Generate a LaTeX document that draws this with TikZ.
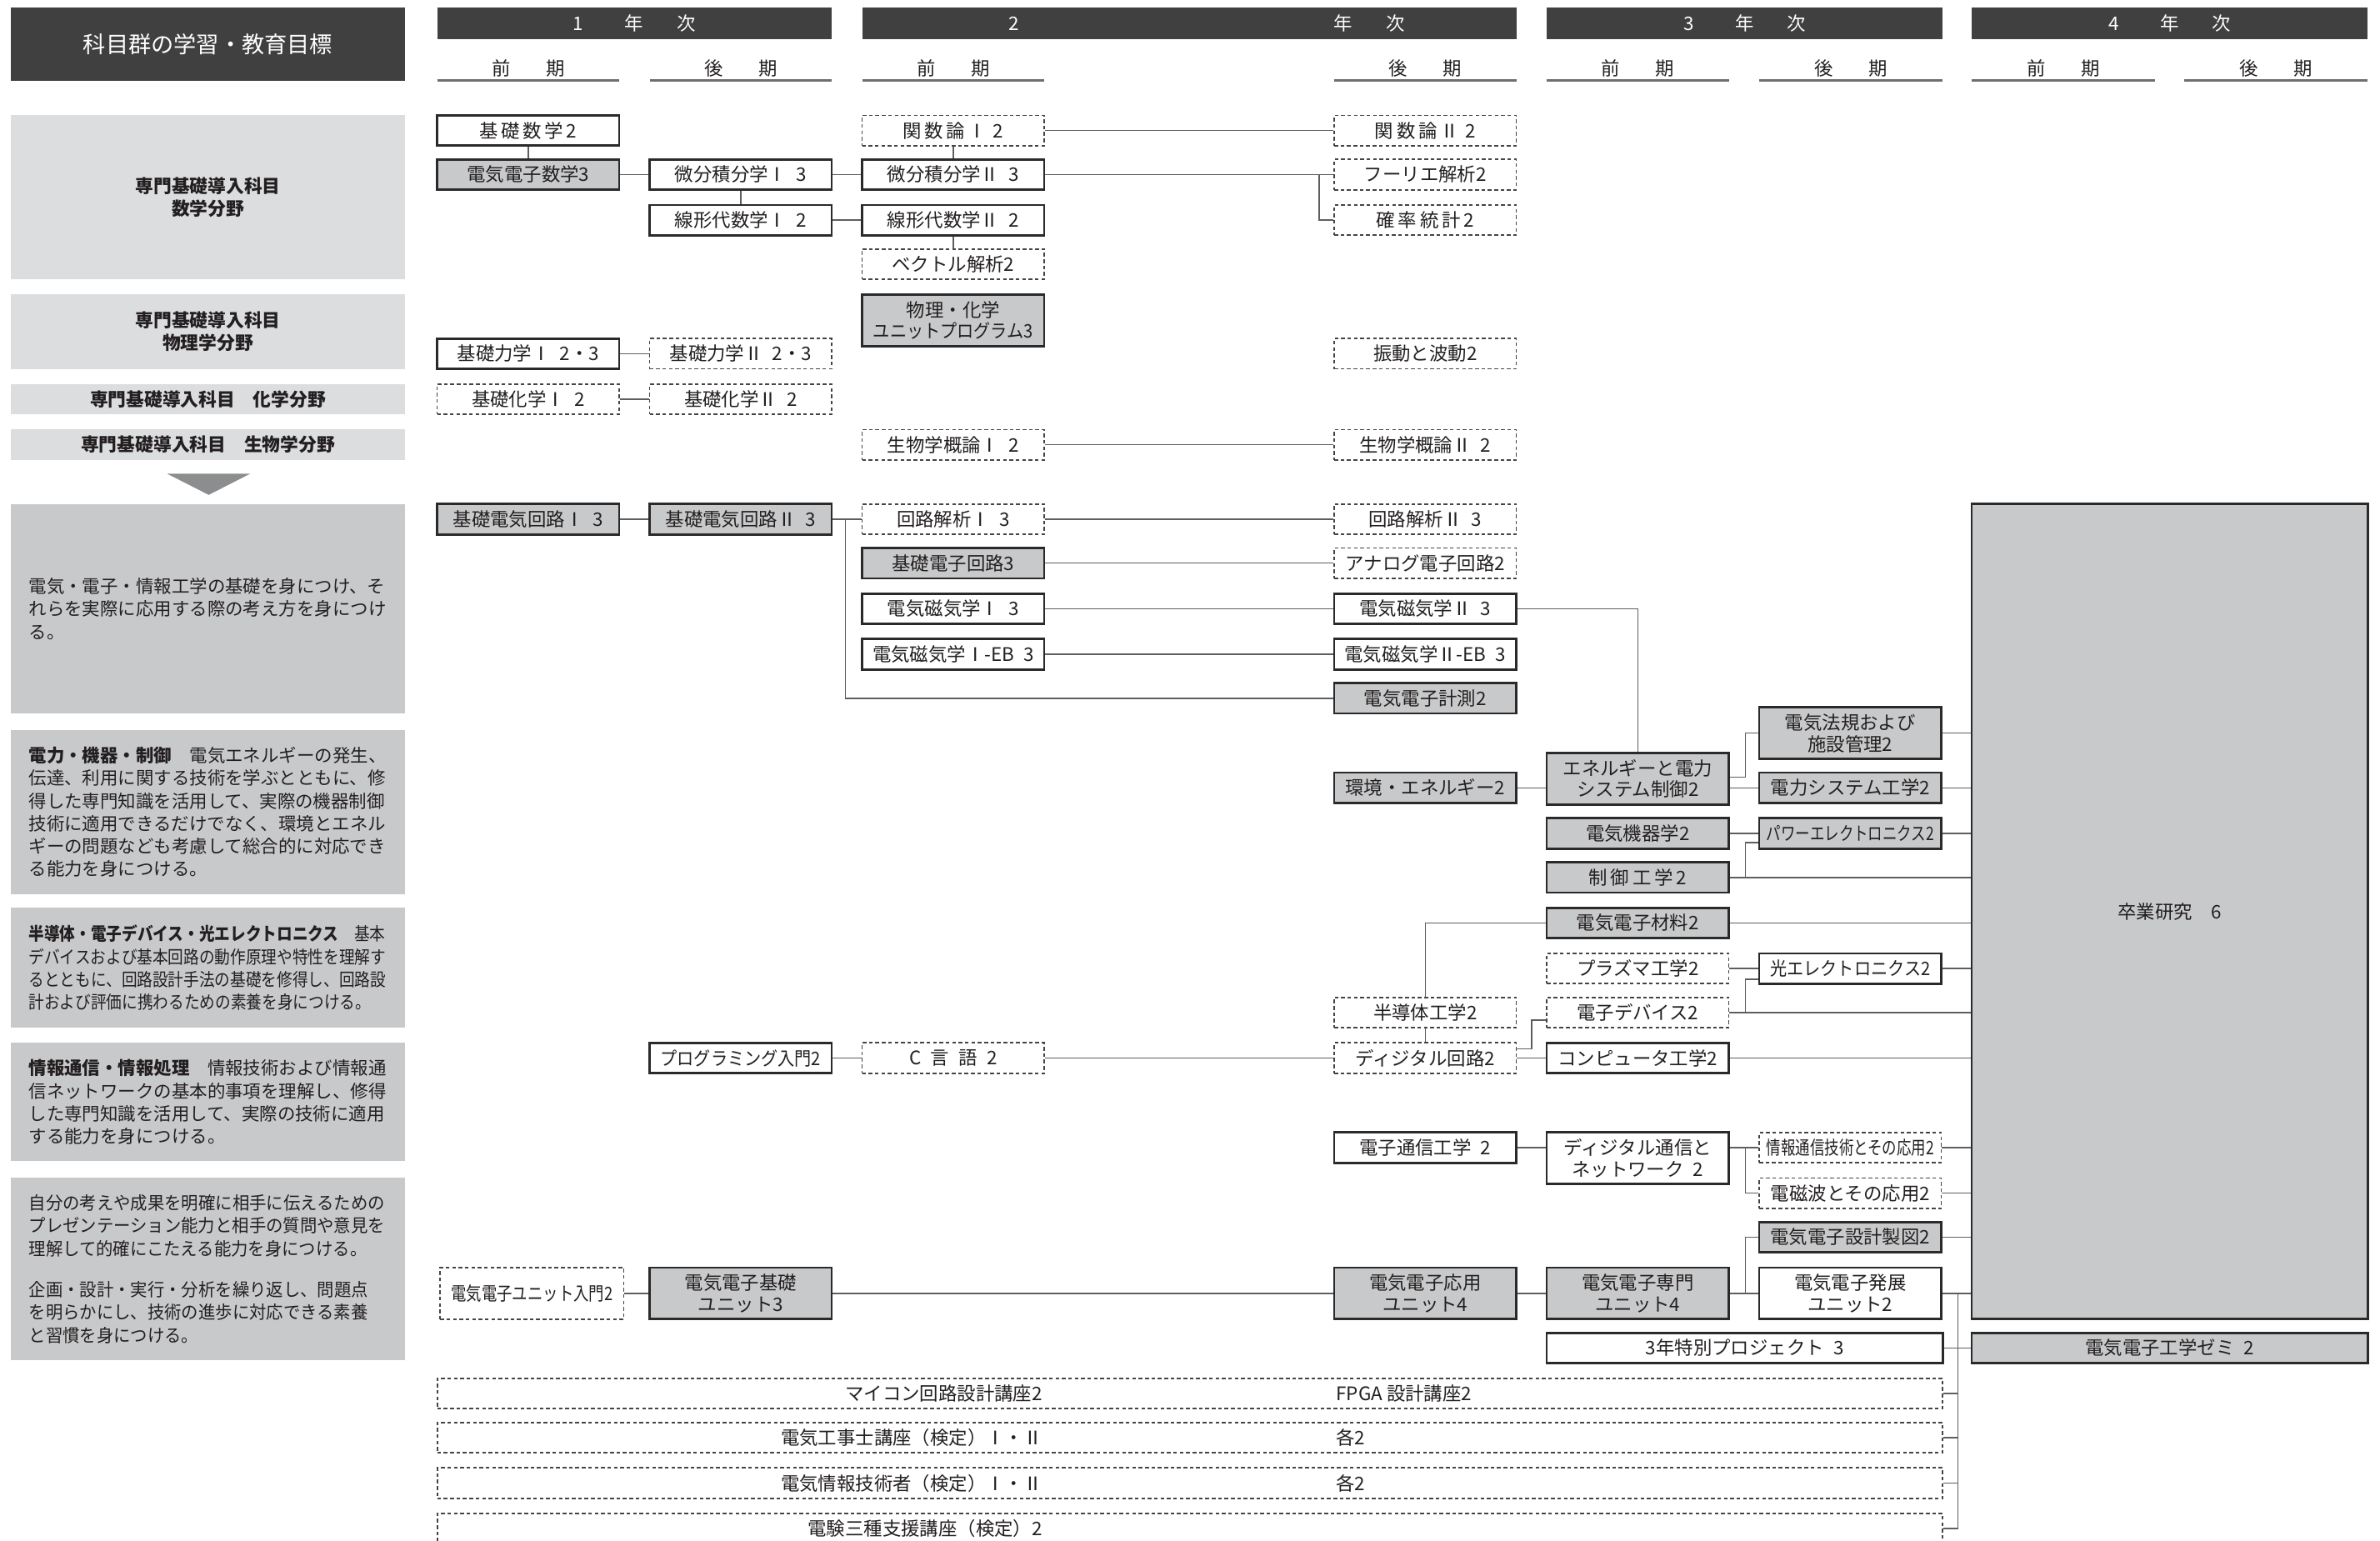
\documentclass[tikz,border=0pt]{standalone}
\usepackage{fontspec}
\usepackage{xcolor}
\usepackage{graphicx}
\usepackage{tikz}
\newfontfamily\jp{Noto Sans CJK JP}
\newfontfamily\jpc{Noto Sans CJK JP}[FakeStretch=0.87]
\newfontfamily\jpm{Noto Sans CJK JP}[FakeStretch=0.95]
\definecolor{barDark}{HTML}{404041}
\definecolor{panelLight}{HTML}{DCDDDF}
\definecolor{panelGray}{HTML}{C8C9CB}
\definecolor{boxGray}{HTML}{C8C9CA}
\definecolor{boxLine}{HTML}{2A2A2A}
\definecolor{optLine}{HTML}{444444}
\definecolor{lineGray}{HTML}{5E5E5E}
\definecolor{ruleGray}{HTML}{6E6E70}
\definecolor{triGray}{HTML}{8C8D8F}
\definecolor{textDark}{HTML}{231F20}
\newcommand{\hsq}[2]{\scalebox{#1}[1]{#2}}

\begin{document}
\begin{tikzpicture}[x=0.02cm, y=-0.02cm,
    font=\jp\fontsize{7}{8}\selectfont,
    course/.style={draw=boxLine, line width=0.85pt, fill=white, text=textDark,
      minimum width=2.4cm, minimum height=0.4cm, inner sep=0pt, align=center},
    gcourse/.style={course, fill=boxGray},
    opt/.style={course, draw=optLine, line width=0.55pt, dash pattern=on 1.4pt off 1pt},
    tall/.style={minimum height=0.68cm},
    link/.style={lineGray, line width=0.45pt},
    yearbar/.style={fill=barDark, text=white, minimum height=0.42cm, inner sep=0pt},
    term/.style={text=textDark, inner sep=0pt},
    panel/.style={fill=panelLight, text=textDark, minimum width=5.2cm, inner sep=0pt,
      align=center, font=\jp\bfseries\fontsize{6.8}{8.5}\selectfont},
    goal/.style={fill=panelGray, text=textDark, minimum width=5.2cm, text width=4.72cm,
      inner sep=0pt, align=left, font=\jp\fontsize{6.7}{8.5}\selectfont}]
    \clip (0,0) rectangle (1568,1014.6);
    % --- columns (semester centres) ---
    \def\ca{348} \def\cb{488} \def\cc{628} \def\cd{939} \def\ce{1079} \def\cf{1219}
    % --- left: goals of the course groups ---
    \node[fill=barDark, text=white, minimum width=5.2cm, minimum height=0.96cm, inner sep=0pt,
      font=\jp\fontsize{8.5}{10}\selectfont] (title) at (137,29) {科目群の学習・教育目標};
    \node[panel, minimum height=2.16cm] (pmath) at (137,130) {専門基礎導入科目\\数学分野};
    \node[panel, minimum height=0.98cm] (pphys) at (137,218.5) {専門基礎導入科目\\物理学分野};
    \node[panel, minimum height=0.4cm] (pchem) at (137,263) {専門基礎導入科目　化学分野};
    \node[panel, minimum height=0.4cm] (pbio) at (137,293) {専門基礎導入科目　生物学分野};
    \fill[triGray] (110,312) -- (165,312) -- (137.5,326) -- cycle;
    \node[goal, minimum height=2.76cm] (gbase) at (137,401)
      {電気・電子・情報工学の基礎を身につけ、そ\\れらを実際に応用する際の考え方を身につけ\\る。};
    \node[goal, minimum height=2.16cm] (gpow) at (137,535)
      {\textbf{電力・機器・制御}　電気エネルギーの発生、\\伝達、利用に関する技術を学ぶとともに、修\\得した専門知識を活用して、実際の機器制御\\技術に適用できるだけでなく、環境とエネル\\ギーの問題なども考慮して総合的に対応でき\\る能力を身につける。};
    \node[goal, minimum height=1.58cm, font=\jpc\fontsize{6.7}{8.5}\selectfont] (gsemi) at (137,637.5)
      {\textbf{半導体・電子デバイス・光エレクトロニクス}　基本\\デバイスおよび基本回路の動作原理や特性を理解す\\るとともに、回路設計手法の基礎を修得し、回路設\\計および評価に携わるための素養を身につける。};
    \node[goal, minimum height=1.56cm] (ginfo) at (137,726)
      {\textbf{情報通信・情報処理}　情報技術および情報通\\信ネットワークの基本的事項を理解し、修得\\した専門知識を活用して、実際の技術に適用\\する能力を身につける。};
    \node[goal, minimum height=2.4cm, font=\jpm\fontsize{6.7}{8.5}\selectfont] (gpres) at (137,836)
      {自分の考えや成果を明確に相手に伝えるための\\プレゼンテーション能力と相手の質問や意見を\\理解して的確にこたえる能力を身につける。\\[7pt]企画・設計・実行・分析を繰り返し、問題点\\を明らかにし、技術の進歩に対応できる素養\\と習慣を身につける。};
    % --- year bars and terms ---
    \node[yearbar, minimum width=5.2cm] (y1) at (418,15.5) {1\hspace{2.2em}年\hspace{1.8em}次};
    \node[yearbar, minimum width=8.62cm] (y2) at (783.5,15.5) {};
    \node[text=white, inner sep=0pt] (y2n) at (668,15.5) {2};
    \node[text=white, inner sep=0pt] (y2t) at (902,15.5) {年\hspace{1.8em}次};
    \node[yearbar, minimum width=5.22cm] (y3) at (1149.5,15.5) {3\hspace{2.2em}年\hspace{1.8em}次};
    \node[yearbar, minimum width=5.22cm] (y4) at (1429.5,15.5) {4\hspace{2.2em}年\hspace{1.8em}次};
    \foreach \xa/\xb/\lbl [count=\i] in {288/408/前, 428/548/後, 568/688/前, 879/999/後,
        1019/1139/前, 1159/1280/後, 1299/1420/前, 1439/1560/後} {
      \draw[ruleGray, line width=1.1pt] (\xa,53) -- (\xb,53);
      \node[term] (t\i) at ({(\xa+\xb)/2},45) {\lbl\hspace{1.9em}期};
    }
    % --- mathematics ---
    \node[course] (bmath) at (\ca,86) {基\,礎\,数\,学\,2};
    \node[opt] (func1) at (\cc,86) {関\,数\,論\,Ⅰ\,\,2};
    \node[opt] (func2) at (\cd,86) {関\,数\,論\,Ⅱ\,\,2};
    \node[gcourse] (eemath) at (\ca,115) {電気電子数学3};
    \node[course] (calc1) at (\cb,115) {微分積分学Ⅰ\enspace 3};
    \node[course] (calc2) at (\cc,115) {微分積分学Ⅱ\enspace 3};
    \node[opt] (fourier) at (\cd,115) {フーリエ解析2};
    \node[course] (lin1) at (\cb,145) {線形代数学Ⅰ\enspace 2};
    \node[course] (lin2) at (\cc,145) {線形代数学Ⅱ\enspace 2};
    \node[opt] (prob) at (\cd,145) {確\,率\,統\,計\,2};
    \node[opt] (vec) at (\cc,174) {ベクトル解析2};
    % --- physics, chemistry, biology ---
    \node[gcourse, tall] (phys) at (\cc,211) {物理・化学\\\hsq{0.9}{ユニットプログラム3}};
    \node[course] (mech1) at (\ca,233) {基礎力学Ⅰ\enspace 2・3};
    \node[opt] (mech2) at (\cb,233) {基礎力学Ⅱ\enspace 2・3};
    \node[opt] (wave) at (\cd,233) {振動と波動2};
    \node[opt] (chem1) at (\ca,263) {基礎化学Ⅰ\enspace 2};
    \node[opt] (chem2) at (\cb,263) {基礎化学Ⅱ\enspace 2};
    \node[opt] (bio1) at (\cc,293) {生物学概論Ⅰ\enspace 2};
    \node[opt] (bio2) at (\cd,293) {生物学概論Ⅱ\enspace 2};
    % --- circuits and electromagnetism ---
    \node[gcourse] (circ1) at (\ca,342) {基礎電気回路Ⅰ\enspace 3};
    \node[gcourse] (circ2) at (\cb,342) {基礎電気回路Ⅱ\enspace 3};
    \node[opt] (ana1) at (\cc,342) {回路解析Ⅰ\enspace 3};
    \node[opt] (ana2) at (\cd,342) {回路解析Ⅱ\enspace 3};
    \node[gcourse] (elec) at (\cc,371) {基礎電子回路3};
    \node[opt] (analog) at (\cd,371) {アナログ電子回路2};
    \node[course] (em1) at (\cc,401) {電気磁気学Ⅰ\enspace 3};
    \node[course] (em2) at (\cd,401) {電気磁気学Ⅱ\enspace 3};
    \node[course] (emeb1) at (\cc,431) {電気磁気学Ⅰ-EB\enspace 3};
    \node[course] (emeb2) at (\cd,431) {電気磁気学Ⅱ-EB\enspace 3};
    \node[gcourse] (meas) at (\cd,460) {電気電子計測2};
    % --- power, machines, control ---
    \node[gcourse, tall] (law) at (\cf,483) {電気法規および\\施設管理2};
    \node[gcourse, tall] (esys) at (\ce,513) {エネルギーと電力\\システム制御2};
    \node[gcourse] (env) at (\cd,519) {環境・エネルギー2};
    \node[gcourse] (psys) at (\cf,519) {電力システム工学2};
    \node[gcourse] (mach) at (\ce,549) {電気機器学2};
    \node[gcourse] (pe) at (\cf,549) {\hsq{0.78}{パワーエレクトロニクス2}};
    \node[gcourse] (ctrl) at (\ce,578) {制\,御\,工\,学\,2};
    % --- devices ---
    \node[gcourse] (mat) at (\ce,608) {電気電子材料2};
    \node[opt] (plasma) at (\ce,638) {プラズマ工学2};
    \node[course] (opto) at (\cf,638) {\hsq{0.9}{光エレクトロニクス2}};
    \node[opt] (semi) at (\cd,667) {半導体工学2};
    \node[opt] (dev) at (\ce,667) {電子デバイス2};
    % --- information ---
    \node[course] (prog) at (\cb,697) {\hsq{0.9}{プログラミング入門2}};
    \node[opt] (clang) at (\cc,697) {C\enspace 言\enspace 語\enspace 2};
    \node[opt] (digi) at (\cd,697) {ディジタル回路2};
    \node[course] (comp) at (\ce,697) {コンピュータ工学2};
    \node[course] (ecom) at (\cd,756) {電子通信工学\enspace 2};
    \node[course, tall] (dcom) at (\ce,763) {ディジタル通信と\\ネットワーク\enspace 2};
    \node[opt] (ict) at (\cf,756) {\hsq{0.78}{情報通信技術とその応用2}};
    \node[opt] (emw) at (\cf,786) {電磁波とその応用2};
    \node[gcourse] (cad) at (\cf,815) {電気電子設計製図2};
    % --- units, project, seminar ---
    \node[opt, tall, minimum width=2.42cm] (uintro) at (350.5,852) {\hsq{0.82}{電気電子ユニット入門2}};
    \node[gcourse, tall] (ubase) at (\cb,852) {電気電子基礎\\ユニット3};
    \node[gcourse, tall] (uapp) at (\cd,852) {電気電子応用\\ユニット4};
    \node[gcourse, tall] (uspec) at (\ce,852) {電気電子専門\\ユニット4};
    \node[course, tall] (uadv) at (\cf,852) {電気電子発展\\ユニット2};
    \node[course, minimum width=5.22cm] (proj) at (1149.5,888) {3年特別プロジェクト\enspace 3};
    \node[gcourse, minimum width=5.22cm] (zemi) at (1429.5,888) {電気電子工学ゼミ\enspace 2};
    \node[gcourse, minimum width=5.22cm, minimum height=10.74cm] (grad) at (1429.5,600.5) {卒業研究\quad 6};
    % --- extra courses ---
    \node[opt, minimum width=19.84cm] (k1) at (784,918) {};
    \node[opt, minimum width=19.84cm] (k2) at (784,947) {};
    \node[opt, minimum width=19.84cm] (k3) at (784,977) {};
    \node[opt, minimum width=19.84cm] (k4) at (784,1007) {};
    \node[term, anchor=east] (k1a) at (687,918) {マイコン回路設計講座2};
    \node[term, anchor=west] (k1b) at (880,918) {FPGA 設計講座2};
    \node[term, anchor=east] (k2a) at (687,947) {電気工事士講座（検定）Ⅰ・Ⅱ};
    \node[term, anchor=west] (k2b) at (880,947) {各2};
    \node[term, anchor=east] (k3a) at (687,977) {電気情報技術者（検定）Ⅰ・Ⅱ};
    \node[term, anchor=west] (k3b) at (880,977) {各2};
    \node[term, anchor=east] (k4a) at (687,1007) {電験三種支援講座（検定）2};
    % --- connectors ---
    \coordinate (jf) at (869,115);
    \coordinate (jc) at (557,342);
    \coordinate (je) at (1150,512);
    \coordinate (jk) at (1150,555);
    \coordinate (jd) at (1150,645);
    \coordinate (jg) at (1009,691);
    \coordinate (jg2) at (1009,672);
    \coordinate (jn) at (1150,756);
    \coordinate (ju) at (1150,852);
    \coordinate (jx) at (1290,852);
    \draw[link] (bmath) -- (eemath);
    \draw[link] (eemath) -- (calc1);
    \draw[link] (calc1) -- (lin1);
    \draw[link] (calc1) -- (calc2);
    \draw[link] (lin1) -- (lin2);
    \draw[link] (func1) -- (calc2);
    \draw[link] (func1) -- (func2);
    \draw[link] (calc2) -- (fourier);
    \draw[link] (jf) |- (prob);
    \draw[link] (lin2) -- (vec);
    \draw[link] (mech1) -- (mech2);
    \draw[link] (chem1) -- (chem2);
    \draw[link] (bio1) -- (bio2);
    \draw[link] (circ1) -- (circ2);
    \draw[link] (circ2) -- (ana1);
    \draw[link] (jc) |- (meas);
    \draw[link] (ana1) -- (ana2);
    \draw[link] (elec) -- (analog);
    \draw[link] (em1) -- (em2);
    \draw[link] (emeb1) -- (emeb2);
    \draw[link] (em2) -| (esys);
    \draw[link] (env) -- (env -| esys.west);
    \draw[link] (psys) -- (psys -| esys.east);
    \draw[link] (esys.east |- je) -- (je) |- (law);
    \draw[link] (law) -- (law -| grad.west);
    \draw[link] (psys) -- (psys -| grad.west);
    \draw[link] (mach) -- (pe);
    \draw[link] (pe) -- (pe -| grad.west);
    \draw[link] (ctrl) -- (ctrl -| grad.west);
    \draw[link] (ctrl -| jk) -- (jk) -- (jk -| pe.west);
    \draw[link] (mat) -- (mat -| grad.west);
    \draw[link] (semi) |- (mat);
    \draw[link] (semi) -- (digi);
    \draw[link] (plasma) -- (opto);
    \draw[link] (opto) -- (opto -| grad.west);
    \draw[link] (dev) -- (dev -| grad.west);
    \draw[link] (dev -| jd) -- (jd) -- (jd -| opto.west);
    \draw[link] (digi.east |- jg) -- (jg) -- (jg2) -- (jg2 -| dev.west);
    \draw[link] (prog) -- (clang);
    \draw[link] (clang) -- (digi);
    \draw[link] (digi) -- (comp);
    \draw[link] (comp) -- (comp -| grad.west);
    \draw[link] (ecom) -- (ecom -| dcom.west);
    \draw[link] (ict) -- (ict -| dcom.east);
    \draw[link] (jn) |- (emw);
    \draw[link] (ict) -- (ict -| grad.west);
    \draw[link] (emw) -- (emw -| grad.west);
    \draw[link] (cad) -- (cad -| grad.west);
    \draw[link] (uintro) -- (ubase);
    \draw[link] (ubase) -- (uapp);
    \draw[link] (uapp) -- (uspec);
    \draw[link] (uspec) -- (uadv);
    \draw[link] (ju) |- (cad);
    \draw[link] (uadv) -- (uadv -| grad.west);
    \draw[link] (jx) |- (k4.east);
    \foreach \k in {k1,k2,k3} \draw[link] (\k.east) -- (\k.east -| jx);
    \draw[link] (proj) -- (zemi);
  \end{tikzpicture}
\end{document}
